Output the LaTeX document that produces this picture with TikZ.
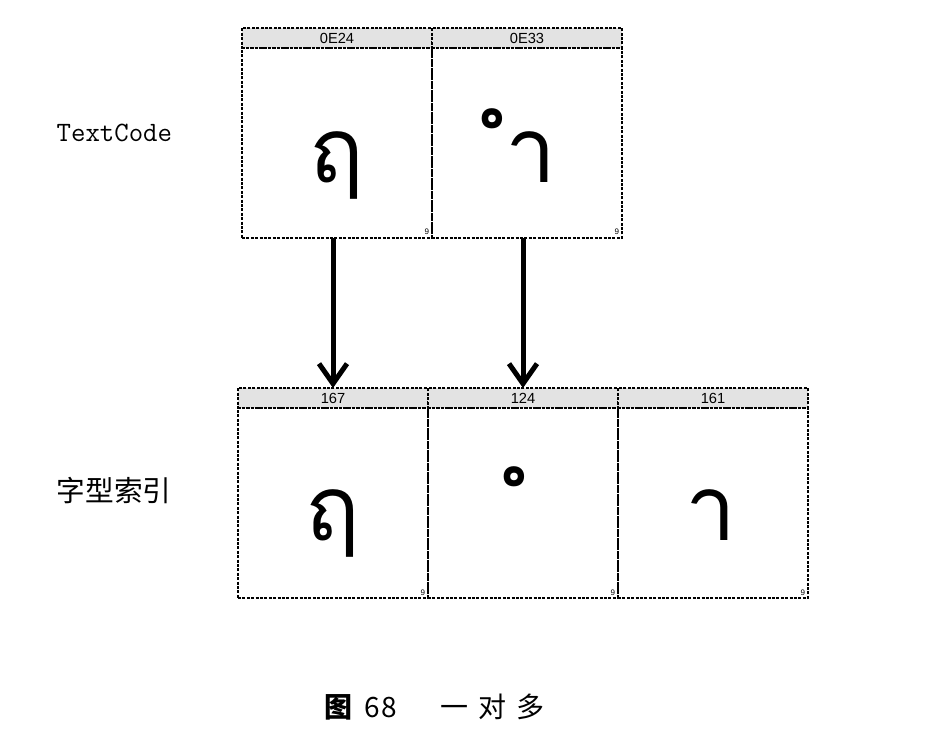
\documentclass[tikz,border=0pt]{standalone}
\usepackage{fontspec}
\setsansfont{Liberation Sans}
\newfontfamily\thaifont[Script=Thai]{Loma}
\newfontfamily\cjkfont{Noto Sans CJK SC}
\usetikzlibrary{arrows.meta,positioning}

\tikzset{
  hdr/.style={draw, dash pattern=on 2.2pt off 1.1pt, line width=0.9pt, fill=black!11,
    minimum width=142.5pt, minimum height=15pt, inner sep=0pt, outer sep=0pt,
    font=\sffamily\fontsize{11}{11}\selectfont},
  cell/.style={draw, dash pattern=on 2.2pt off 1.1pt, line width=0.9pt,
    minimum width=142.5pt, minimum height=142.5pt, inner sep=0pt, outer sep=0pt},
  glyph/.style={anchor=base, inner sep=0pt, minimum width=4pt,
    font=\thaifont\fontsize{68}{68}\selectfont},
  cornermark/.style={inner sep=0pt, font=\sffamily\fontsize{6}{6}\selectfont},
  arr/.style={-{Straight Barb[length=15pt,width=21pt]}, line width=3.75pt}
}

\begin{document}
\begin{tikzpicture}[x=0.75pt,y=-0.75pt]
    \useasboundingbox (0,0) rectangle (939,733);

    % Row labels
    \node[anchor=west, font=\ttfamily\fontsize{21}{21}\selectfont] (lbltc) at (52,133) {TextCode};
    \node[anchor=west, font=\cjkfont\fontsize{21.5}{21.5}\selectfont] (lblidx) at (52,490) {字型索引};

    % Text codes (top row)
    \node[hdr] (h1) at (337,38) {0E24};
    \node[hdr, right=0pt of h1] (h2) {0E33};
    \node[cell, below=0pt of h1] (b1) {};
    \node[cell, below=0pt of h2] (b2) {};

    % Glyph indexes (bottom row)
    \node[hdr] (h3) at (333,398) {167};
    \node[hdr, right=0pt of h3] (h4) {124};
    \node[hdr, right=0pt of h4] (h5) {161};
    \node[cell, below=0pt of h3] (b3) {};
    \node[cell, below=0pt of h4] (b4) {};
    \node[cell, below=0pt of h5] (b5) {};

    % Thai glyphs
    \node[glyph] (g1) at (337,182) {ฤ};
    \node[glyph] (g2) at (531,182) {ำ};
    \node[glyph] (g3) at (333,540) {ฤ};
    \node[glyph] (g4) at (527,540) {ํ};
    \node[glyph] (g5) at (711,540) {า};

    % Corner marks
    \node[cornermark, anchor=south east] (m1) at ([xshift=-2pt,yshift=2pt]b1.south east) {9};
    \node[cornermark, anchor=south east] (m2) at ([xshift=-2pt,yshift=2pt]b2.south east) {9};
    \node[cornermark, anchor=south east] (m3) at ([xshift=-2pt,yshift=2pt]b3.south east) {9};
    \node[cornermark, anchor=south east] (m4) at ([xshift=-2pt,yshift=2pt]b4.south east) {9};
    \node[cornermark, anchor=south east] (m5) at ([xshift=-2pt,yshift=2pt]b5.south east) {9};

    % One code to many glyphs
    \draw[arr] (h3.north |- b1.south) -- (h3.north);
    \draw[arr] (h4.north |- b2.south) -- (h4.north);

    % Caption
    \node[anchor=west, inner sep=0pt, font=\cjkfont\fontsize{21}{21}\selectfont] (cap) at (324,707)
      {\textbf{图}\hspace{9pt}6\hspace{1.5pt}8\hspace{32pt}一\hspace{7.5pt}对\hspace{7.5pt}多};
\end{tikzpicture}
\end{document}
